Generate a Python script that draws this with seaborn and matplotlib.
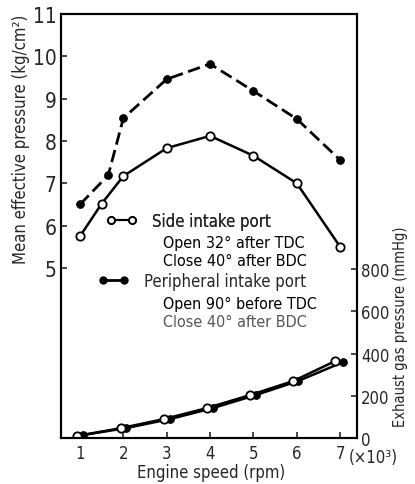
import numpy as np
import pandas as pd
import matplotlib
matplotlib.use('Agg')
import matplotlib.pyplot as plt
from matplotlib.lines import Line2D
from matplotlib.legend_handler import HandlerLine2D
import seaborn as sns

# --- Data ---
speed_side = [1, 1.5, 2, 3, 4, 5, 6, 7]
mep_side = [5.75, 6.52, 7.17, 7.83, 8.12, 7.65, 7.0, 5.5]

speed_peri = [1, 1.65, 2, 3, 4, 5, 6, 7]
mep_peri = [6.5, 7.19, 8.54, 9.46, 9.82, 9.18, 8.52, 7.55]

# exhaust gas pressure (mmHg), points drawn slightly apart in the original
exh_speed_side = [0.93, 1.95, 2.94, 3.93, 4.93, 5.92, 6.89]
exh_side = [10, 47, 90, 142, 204, 270, 365]
exh_speed_peri = [1.07, 2.06, 3.08, 4.07, 5.06, 6.03, 7.07]
exh_peri = [14, 47, 90, 142, 204, 270, 360]

x_ticks = [1, 2, 3, 4, 5, 6, 7]
mep_ticks = [5, 6, 7, 8, 9, 10, 11]
exh_ticks = [0, 200, 400, 600, 800]

df_side = pd.DataFrame({'speed': speed_side, 'mep': mep_side})
df_peri = pd.DataFrame({'speed': speed_peri, 'mep': mep_peri})
df_exh_side = pd.DataFrame({'speed': exh_speed_side, 'p': exh_side})
df_exh_peri = pd.DataFrame({'speed': exh_speed_peri, 'p': exh_peri})

# --- Style ---
sns.set_style('white')
plt.rcParams['font.family'] = ['DejaVu Sans']
plt.rcParams['font.stretch'] = 'condensed'
plt.rcParams['mathtext.default'] = 'regular'

fig = plt.figure(figsize=(4.15, 4.85), dpi=100)
ax = fig.add_axes([61 / 415, 1 - 439 / 485, (357 - 61) / 415, (439 - 15) / 485])
ax2 = ax.twinx()

open_kw = dict(marker='o', markersize=6, markerfacecolor='white',
               markeredgecolor='black', markeredgewidth=1.3)
fill_kw = dict(marker='o', markersize=5.5, markerfacecolor='black',
               markeredgecolor='black')

sns.lineplot(data=df_side, x='speed', y='mep', ax=ax, color='black',
             linewidth=1.8, **open_kw)
sns.lineplot(data=df_peri, x='speed', y='mep', ax=ax, color='black',
             linewidth=2.0, linestyle=(0, (4.5, 2)), **fill_kw)

sns.lineplot(data=df_exh_peri, x='speed', y='p', ax=ax2, color='black',
             linewidth=1.8, **fill_kw)
sns.lineplot(data=df_exh_side, x='speed', y='p', ax=ax2, color='black',
             linewidth=1.8, **open_kw)

# --- Axes ---
ax.set_xlim(0.56, 7.39)
ax.set_ylim(0.98, 11)
ax2.set_ylim(0, 2010)

ax.set_xticks(x_ticks)
ax.set_yticks(mep_ticks)
ax2.set_yticks(exh_ticks)
ax.set_xlabel('')
ax.set_ylabel('')
ax2.set_ylabel('')

ax.tick_params(axis='y', direction='in', length=4, width=1.2, pad=3,
               labelsize=15, left=True)
ax.tick_params(axis='x', direction='in', length=4, width=1.2, pad=4,
               labelsize=12, bottom=True)
ax2.tick_params(axis='y', direction='in', length=4, width=1.2, pad=3,
                labelsize=12, right=True)

for a in (ax, ax2):
    for sp in a.spines.values():
        sp.set_visible(True)
        sp.set_linewidth(1.5)
        sp.set_color('black')

# --- Axis titles ---
fig.text(21 / 415, 1 - 139 / 485, 'Mean effective pressure (kg/cm²)',
         rotation=90, ha='center', va='center', fontsize=12)
fig.text(400 / 415, 1 - 327 / 485, 'Exhaust gas pressure (mmHg)',
         rotation=90, ha='center', va='center', fontsize=10.5)
fig.text(211 / 415, 1 - 473 / 485, 'Engine speed (rpm)',
         ha='center', va='center', fontsize=12)
fig.text(349 / 415, 1 - 458 / 485, '(×10³)',
         ha='left', va='center', fontsize=12)

# --- Legend ---
h_side = Line2D([], [], color='black', linewidth=1.5, **dict(open_kw, markersize=5))
h_peri = Line2D([], [], color='black', linewidth=2.0, **dict(fill_kw, markersize=5))

leg1 = ax.legend([h_side], ['Side intake port'], loc='center left',
                 bbox_to_anchor=(98 / 415, 1 - 222 / 485),
                 bbox_transform=fig.transFigure, frameon=False, fontsize=12,
                 handlelength=2.8, handletextpad=0.45, borderpad=0,
                 borderaxespad=0, numpoints=2,
                 handler_map={Line2D: HandlerLine2D(marker_pad=0.75)})
ax.add_artist(leg1)
ax2.legend([h_peri], ['Peripheral intake port'], loc='center left',
           bbox_to_anchor=(90 / 415, 1 - 282 / 485),
           bbox_transform=fig.transFigure, frameon=False, fontsize=12,
           handlelength=2.8, handletextpad=0.45, borderpad=0,
           borderaxespad=0, numpoints=2,
           handler_map={Line2D: HandlerLine2D(marker_pad=0.75)})

sub_lines = [('Open 32° after TDC', 243, 'black'),
             ('Close 40° after BDC', 262, 'black'),
             ('Open 90° before TDC', 304, 'black'),
             ('Close 40° after BDC', 323, '#555555')]
for txt, y, c in sub_lines:
    fig.text(163 / 415, 1 - y / 485, txt, ha='left', va='center',
             fontsize=11.5, color=c)

fig.savefig('out.png', dpi=100)
